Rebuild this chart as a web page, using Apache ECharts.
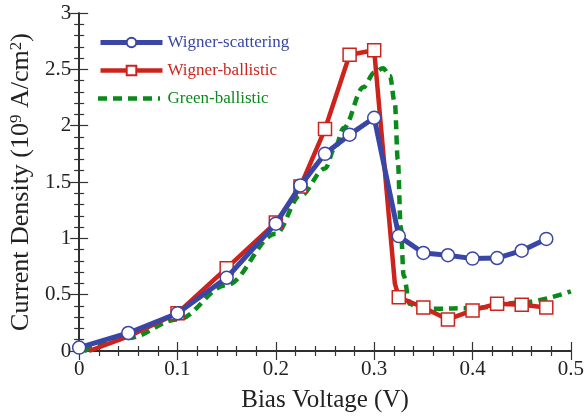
<!DOCTYPE html>
<html>
<head>
<meta charset="utf-8">
<script src="https://cdn.jsdelivr.net/npm/echarts@6/dist/echarts.min.js"></script>
<style>
  html, body { margin: 0; padding: 0; background: #fff; }
  #chart { width: 587px; height: 418px; }
</style>
</head>
<body>
<div id="chart"></div>
<script>
// Bias voltage (V) and current density (10^9 A/cm^2)
const scatteringV = [0, 0.05, 0.1, 0.15, 0.2, 0.225, 0.25, 0.275, 0.3, 0.325, 0.35, 0.375, 0.4, 0.425, 0.45, 0.475];
const scatteringJ = [0.03, 0.16, 0.335, 0.65, 1.13, 1.47, 1.75, 1.92, 2.07, 1.02, 0.87, 0.85, 0.82, 0.825, 0.89, 0.995];

const ballisticV = [0.01, 0.05, 0.1, 0.15, 0.2, 0.225, 0.25, 0.275, 0.3, 0.321, 0.325, 0.35, 0.375, 0.4, 0.425, 0.45, 0.475];
const ballisticJ = [0, 0.13, 0.335, 0.735, 1.14, 1.46, 1.97, 2.63, 2.67, 0.6, 0.477, 0.386, 0.28, 0.36, 0.42, 0.41, 0.386];
// points drawn without a marker
const ballisticPlain = [0.01, 0.05, 0.321];

const greenV = [0.005, 0.05, 0.1, 0.15, 0.2, 0.225, 0.25, 0.26, 0.269, 0.289, 0.3, 0.309, 0.316, 0.321, 0.324, 0.327, 0.33, 0.336, 0.345, 0.36, 0.4, 0.45, 0.5];
const greenJ = [0, 0.115, 0.28, 0.585, 1.04, 1.38, 1.62, 1.8, 1.98, 2.34, 2.47, 2.51, 2.44, 2.2, 1.7, 1.1, 0.67, 0.42, 0.38, 0.375, 0.38, 0.43, 0.53];

const xTicks = [0, 0.1, 0.2, 0.3, 0.4, 0.5];
const yTicks = [0, 0.5, 1, 1.5, 2, 2.5, 3];

const BLUE = '#3a46a6';
const RED = '#cc241c';
const GREEN = '#0b8a1c';
const FONT = '"Liberation Serif", "Times New Roman", serif';
const DASH = [9, 6];

// legend block geometry
const LEG_LEFT = 98, LEG_TOP = 34, LEG_W = 62, LEG_H = 12, LEG_GAP = 11, LEG_FONT = 17;

const pairs = (xs, ys) => xs.map((x, i) => [x, ys[i]]);

const ballisticData = ballisticV.map((x, i) => {
  const item = { value: [x, ballisticJ[i]] };
  if (ballisticPlain.includes(x)) item.symbol = 'none';
  return item;
});

const chart = echarts.init(document.getElementById('chart'), null, { renderer: 'canvas' });

const tickCommon = {
  axisLine: { show: true, lineStyle: { color: '#222', width: 1.5 } },
  axisTick: { show: true, inside: true, length: 9, lineStyle: { color: '#333', width: 1.2 } },
  minorTick: { show: true, splitNumber: 5, length: 5, lineStyle: { color: '#333', width: 1.2 } },
  splitLine: { show: false }
};

// third legend row: the dashed sample line is drawn by hand
const rowH = Math.max(LEG_H, LEG_FONT);
const greenRowY = LEG_TOP + 2 * (rowH + LEG_GAP) + rowH / 2;

chart.setOption({
  animation: false,
  backgroundColor: '#fff',
  grid: { left: 77, right: 15, top: 13, bottom: 65 },
  legend: {
    orient: 'vertical',
    left: LEG_LEFT,
    top: LEG_TOP,
    padding: 0,
    itemWidth: LEG_W,
    itemHeight: LEG_H,
    itemGap: LEG_GAP,
    textStyle: { fontFamily: FONT, fontSize: LEG_FONT, lineHeight: LEG_FONT },
    data: [
      { name: 'Wigner-scattering', textStyle: { color: BLUE }, lineStyle: { width: 5 } },
      { name: 'Wigner-ballistic', textStyle: { color: RED }, lineStyle: { width: 4.5 } },
      { name: 'Green-ballistic', icon: 'none', textStyle: { color: GREEN } }
    ]
  },
  graphic: [{
    type: 'line',
    silent: true,
    shape: { x1: LEG_LEFT, y1: greenRowY, x2: LEG_LEFT + LEG_W, y2: greenRowY },
    style: { stroke: GREEN, lineWidth: 4.5, lineDash: DASH }
  }],
  xAxis: [
    Object.assign({
      type: 'value', min: xTicks[0], max: xTicks[xTicks.length - 1], interval: 0.1,
      name: 'Bias Voltage (V)', nameLocation: 'middle', nameGap: 37,
      nameTextStyle: { fontFamily: FONT, fontSize: 25, color: '#222' },
      axisLabel: { fontFamily: FONT, fontSize: 21, color: '#222', margin: 8 }
    }, tickCommon),
    Object.assign({
      type: 'value', position: 'top', min: 0, max: 0.5, interval: 0.1,
      axisLabel: { show: false }
    }, tickCommon)
  ],
  yAxis: [
    Object.assign({
      type: 'value', min: yTicks[0], max: yTicks[yTicks.length - 1], interval: 0.5,
      name: 'Current Density (10{sup|9} A/cm{sup|2})', nameLocation: 'middle', nameGap: 43,
      nameTextStyle: {
        fontFamily: FONT, fontSize: 26, color: '#222',
        rich: { sup: { fontFamily: FONT, fontSize: 17, color: '#222', verticalAlign: 'top', lineHeight: 17, padding: [0, 0, 9, 0] } }
      },
      axisLabel: { fontFamily: FONT, fontSize: 21, color: '#222', margin: 8 }
    }, tickCommon),
    Object.assign({
      type: 'value', position: 'right', min: 0, max: 3, interval: 0.5,
      axisLabel: { show: false }
    }, tickCommon)
  ],
  series: [
    {
      name: 'Green-ballistic', type: 'line', data: pairs(greenV, greenJ),
      smooth: 0.35, smoothMonotone: 'x', symbol: 'none', z: 2,
      lineStyle: { color: GREEN, width: 4.5, type: DASH },
      itemStyle: { color: GREEN }
    },
    {
      name: 'Wigner-ballistic', type: 'line', data: ballisticData,
      symbol: 'rect', symbolSize: 13, showAllSymbol: true, z: 3,
      lineStyle: { color: RED, width: 4.5 },
      itemStyle: { color: '#fff', borderColor: RED, borderWidth: 1.5 }
    },
    {
      name: 'Wigner-scattering', type: 'line', data: pairs(scatteringV, scatteringJ),
      symbol: 'circle', symbolSize: 13, showAllSymbol: true, z: 4,
      lineStyle: { color: BLUE, width: 5 },
      itemStyle: { color: '#fff', borderColor: BLUE, borderWidth: 1.5 }
    }
  ]
});
</script>
</body>
</html>
